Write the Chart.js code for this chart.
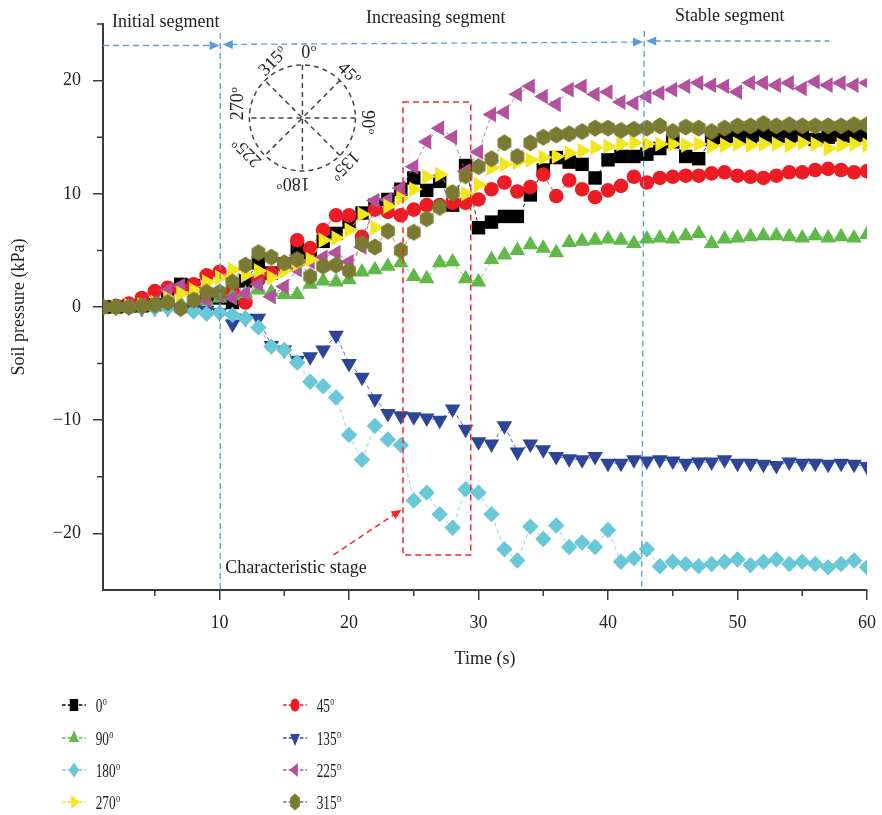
<!DOCTYPE html>
<html>
<head>
<meta charset="utf-8">
<script src="https://cdn.jsdelivr.net/npm/chart.js@4.4.0/dist/chart.umd.min.js"></script>
<style>
  html, body { margin: 0; padding: 0; background: #fff; }
</style>
</head>
<body>
<canvas id="pressure" width="882" height="815"></canvas>
<script>
// time axis (s)
const seconds = [1,2,3,4,5,6,7,8,9,10,11,12,13,14,15,16,17,18,19,20,
  21,22,23,24,25,26,27,28,29,30,31,32,33,34,35,36,37,38,39,40,
  41,42,43,44,45,46,47,48,49,50,51,52,53,54,55,56,57,58,59,60];

// soil pressure (kPa) per gauge angle
const deg0 = [0,0,0.1,0.1,0.2,0.8,2.0,1.9,1.0,0.8, 0.4,2.3,3.9,3.0,3.8,5.2,4.8,5.8,6.5,7.5,
  8.3,9.0,9.5,10.4,11.4,10.3,11.1,9.0,12.5,7.0, 7.5,8.0,8.0,9.9,12.1,13.2,12.8,12.6,11.4,13.0,
  13.3,13.3,13.5,14.0,14.6,13.3,13.1,14.8,15.0,15.1, 15.0,15.2,15.0,15.1,15.2,14.8,15.0,15.2,15.1,15.2];
const deg45 = [0,0.1,0.3,0.8,1.4,1.7,1.6,2.0,2.8,3.1, 1.5,0.4,2.4,3.0,3.6,5.9,5.2,6.8,8.1,8.1,
  6.2,8.6,8.4,8.1,8.6,9.0,9.0,9.2,9.2,9.5, 10.4,11.0,10.2,10.6,11.7,9.8,11.2,10.4,9.7,10.3,
  10.7,11.5,11.0,11.4,11.5,11.6,11.6,11.8,11.9,11.6, 11.5,11.4,11.6,11.9,11.9,12.1,12.2,12.1,11.9,12.0];
const deg90 = [0,0,0,0.1,0.1,0.2,0.3,0.4,0.5,0.8, 1.0,1.2,1.5,1.3,1.1,1.1,2.0,2.3,2.2,2.4,
  3.1,3.3,3.6,3.9,2.7,2.5,3.9,4.0,2.5,2.2, 4.2,4.6,5.0,5.5,5.2,4.8,5.7,5.8,5.9,6.0,
  5.9,5.6,6.0,6.1,6.0,6.3,6.5,5.6,6.0,6.1, 6.2,6.3,6.3,6.2,6.1,6.3,6.1,6.2,6.1,6.4];
const deg135 = [0,0,0,-0.1,-0.1,-0.1,-0.1,-0.2,-0.3,-0.5, -1.5,-1.0,-1.0,-3.4,-3.8,-4.7,-4.4,-3.8,-2.5,-5.0,
  -6.2,-8.1,-9.4,-9.6,-9.7,-9.8,-10.0,-9.0,-10.8,-11.9, -12.1,-10.5,-12.8,-12.1,-12.6,-13.2,-13.4,-13.5,-13.2,-13.8,
  -13.8,-13.5,-13.6,-13.5,-13.6,-13.8,-13.7,-13.7,-13.5,-13.8, -13.8,-13.9,-14.0,-13.7,-13.8,-13.8,-13.9,-13.8,-13.9,-14.1];
const deg180 = [0,0,0,0,-0.1,-0.1,-0.2,-0.4,-0.6,-0.5, -0.7,-1.0,-1.8,-3.5,-3.8,-4.9,-6.6,-7.0,-8.0,-11.3,
  -13.5,-10.5,-11.7,-12.2,-17.1,-16.4,-18.3,-19.5,-16.1,-16.4, -18.3,-21.4,-22.4,-19.4,-20.5,-19.3,-21.2,-20.8,-21.2,-19.7,
  -22.5,-22.2,-21.4,-22.9,-22.5,-22.7,-22.9,-22.7,-22.5,-22.3, -22.8,-22.5,-22.3,-22.7,-22.5,-22.7,-23.0,-22.7,-22.4,-23.0];
const deg225 = [0,0,0.1,0.2,0.4,1.5,1.9,1.2,0.6,1.0, 0.8,1.2,2.0,0.9,1.8,3.3,4.0,4.4,4.8,4.0,
  5.3,9.4,9.5,10.5,12.4,14.6,15.8,15.0,12.0,13.7, 17.0,17.2,18.8,19.5,18.6,17.9,19.2,19.5,18.8,19.0,
  18.1,18.0,18.6,18.9,19.2,19.5,19.8,19.6,19.5,19.0, 19.8,19.8,19.6,19.8,19.3,19.9,19.6,19.8,19.6,19.8];
const deg270 = [0,0,0.1,0.2,0.4,0.8,1.2,1.5,2.2,2.6, 3.3,2.8,3.2,2.6,3.2,3.8,4.2,5.9,6.1,6.8,
  8.2,7.0,8.9,9.6,10.4,11.5,11.7,10.1,10.0,10.8, 12.3,12.6,12.8,13.0,13.2,13.3,13.6,13.8,14.1,14.2,
  14.4,14.5,14.4,14.4,14.4,14.3,14.4,14.2,14.3,14.4, 14.3,14.4,14.4,14.3,14.5,14.4,14.0,14.3,14.4,14.3];
const deg315 = [0,0,0,0.1,0.2,0.4,-0.1,0.6,1.3,1.3, 2.2,3.7,4.8,4.4,3.9,4.2,2.7,3.6,3.7,3.2,
  5.6,5.3,6.7,5.0,6.6,7.8,8.8,10.1,11.6,12.4, 13.1,14.5,13.3,14.5,15.0,15.2,15.3,15.5,15.8,15.8,
  15.6,15.7,15.8,16.0,15.5,15.9,15.8,15.5,15.8,16.0, 16.0,16.2,16.0,16.1,16.0,16.0,16.0,16.0,16.1,16.1];

const angleLabels = ['0', '45', '90', '135', '180', '225', '270', '315'];
const xMajorTicks = [10, 20, 30, 40, 50, 60];
const xMinorTicks = [5, 15, 25, 35, 45, 55];
const yMajorTicks = [-20, -10, 0, 10, 20];
const yMinorTicks = [-15, -5, 5, 15, 25];

const SERIF = '"Liberation Serif", "DejaVu Serif", serif';

// olive hexagon marker, pointy top
function makeHexagon(color, r) {
  const c = document.createElement('canvas');
  const s = Math.ceil(r * 2 + 2);
  c.width = s; c.height = s;
  const g = c.getContext('2d');
  g.fillStyle = color;
  g.beginPath();
  for (let k = 0; k < 6; k++) {
    const a = Math.PI / 3 * k;
    const px = s / 2 + Math.sin(a) * r * 0.92;
    const py = s / 2 - Math.cos(a) * r;
    if (k === 0) g.moveTo(px, py); else g.lineTo(px, py);
  }
  g.closePath();
  g.fill();
  return c;
}

const hexMarker = makeHexagon('#7a7a33', 8.6);

const styles = [
  { color: '#000000', point: 'rect', rot: 0, r: 9.5, order: 8 },
  { color: '#ec1c24', point: 'circle', rot: 0, r: 7.3, order: 7 },
  { color: '#5fb848', point: 'triangle', rot: 0, r: 9, order: 6 },
  { color: '#2c4597', point: 'triangle', rot: 180, r: 9, order: 5 },
  { color: '#69c8d8', point: 'rectRot', rot: 0, r: 8.2, order: 4 },
  { color: '#b3519f', point: 'triangle', rot: 270, r: 9, order: 3 },
  { color: '#f3e61a', point: 'triangle', rot: 90, r: 9, order: 2 },
  { color: '#7a7a33', point: hexMarker, rot: 0, r: 8.6, order: 1 }
];
const values = [deg0, deg45, deg90, deg135, deg180, deg225, deg270, deg315];

const datasets = values.map((vals, i) => ({
  label: angleLabels[i] + '°',
  data: seconds.map((t, j) => ({ x: t, y: vals[j] })),
  borderColor: styles[i].color,
  backgroundColor: styles[i].color,
  borderWidth: 0.8,
  borderDash: [4, 3],
  pointStyle: styles[i].point,
  pointRotation: styles[i].rot,
  pointRadius: styles[i].r,
  pointBorderWidth: 0,
  pointBackgroundColor: styles[i].color,
  order: styles[i].order,
  tension: 0
}));

// number with a small raised "o" as degree mark
function degText(ctx, num, x, y, size, align) {
  ctx.font = size + 'px ' + SERIF;
  const w = ctx.measureText(num).width;
  ctx.font = (size * 0.62) + 'px ' + SERIF;
  const wo = ctx.measureText('o').width;
  const start = align === 'center' ? x - (w + wo) / 2 : x;
  ctx.textAlign = 'left';
  ctx.textBaseline = 'alphabetic';
  ctx.font = size + 'px ' + SERIF;
  ctx.fillText(num, start, y);
  ctx.font = (size * 0.62) + 'px ' + SERIF;
  ctx.fillText('o', start + w + 0.5, y - size * 0.36);
}

function drawMarker(ctx, st, x, y, r) {
  ctx.fillStyle = st.color;
  if (st.point instanceof HTMLCanvasElement) {
    ctx.drawImage(st.point, x - st.point.width / 2, y - st.point.height / 2);
    return;
  }
  ctx.beginPath();
  if (st.point === 'rect') {
    const h = r * Math.SQRT1_2;
    ctx.rect(x - h, y - h, 2 * h, 2 * h);
  } else if (st.point === 'circle') {
    ctx.arc(x, y, r, 0, Math.PI * 2);
  } else if (st.point === 'rectRot') {
    ctx.moveTo(x, y - r); ctx.lineTo(x + r, y); ctx.lineTo(x, y + r); ctx.lineTo(x - r, y);
  } else {
    let a = st.rot * Math.PI / 180;
    for (let k = 0; k < 3; k++) {
      const px = x + Math.sin(a) * r, py = y - Math.cos(a) * r;
      if (k === 0) ctx.moveTo(px, py); else ctx.lineTo(px, py);
      a += Math.PI * 2 / 3;
    }
  }
  ctx.closePath();
  ctx.fill();
}

function arrowHead(ctx, x, y, dir, color) {
  ctx.save();
  ctx.fillStyle = color;
  ctx.translate(x, y);
  ctx.rotate(dir);
  ctx.beginPath();
  ctx.moveTo(0, 0);
  ctx.lineTo(-10, -4.5);
  ctx.lineTo(-10, 4.5);
  ctx.closePath();
  ctx.fill();
  ctx.restore();
}

const overlay = {
  id: 'overlay',
  afterDraw(chart) {
    const { ctx, scales: { x, y }, chartArea } = chart;
    const X = v => x.getPixelForValue(v);
    const Y = v => y.getPixelForValue(v);
    ctx.save();

    // minor tick marks
    ctx.strokeStyle = '#3a3a3a';
    ctx.lineWidth = 1.5;
    ctx.beginPath();
    xMinorTicks.forEach(v => { ctx.moveTo(X(v), chartArea.bottom); ctx.lineTo(X(v), chartArea.bottom + 6); });
    yMinorTicks.forEach(v => { ctx.moveTo(chartArea.left, Y(v)); ctx.lineTo(chartArea.left - 6, Y(v)); });
    ctx.stroke();

    // segment boundaries
    const blue = '#5b9bd8';
    ctx.strokeStyle = blue;
    ctx.lineWidth = 1.3;
    ctx.setLineDash([6, 4]);
    ctx.beginPath();
    ctx.moveTo(X(10.05), Y(24.2)); ctx.lineTo(X(10.05), chartArea.bottom);
    ctx.moveTo(X(42.8), Y(24.4)); ctx.lineTo(X(42.6), chartArea.bottom);
    ctx.moveTo(chartArea.left, Y(23.1)); ctx.lineTo(X(9.4), Y(23.1));
    ctx.moveTo(X(10.9), Y(23.2)); ctx.lineTo(X(42.0), Y(23.4));
    ctx.moveTo(X(43.6), Y(23.5)); ctx.lineTo(X(57.1), Y(23.5));
    ctx.stroke();
    ctx.setLineDash([]);
    arrowHead(ctx, X(10.0), Y(23.1), 0, blue);
    arrowHead(ctx, X(10.25), Y(23.2), Math.PI, blue);
    arrowHead(ctx, X(42.7), Y(23.4), 0, blue);
    arrowHead(ctx, X(42.95), Y(23.5), Math.PI, blue);

    // characteristic stage box and pointer
    const red = '#ee2a2a';
    ctx.strokeStyle = red;
    ctx.lineWidth = 1.5;
    ctx.setLineDash([6, 4]);
    ctx.strokeRect(X(24.17), Y(18.1), X(29.4) - X(24.17), Y(-21.9) - Y(18.1));
    const ax0 = X(18.8), ay0 = Y(-21.9), ax1 = X(24.05), ay1 = Y(-17.9);
    ctx.beginPath();
    ctx.moveTo(ax0, ay0); ctx.lineTo(ax1 - 6, ay1 + 4);
    ctx.stroke();
    ctx.setLineDash([]);
    arrowHead(ctx, ax1, ay1, Math.atan2(ay1 - ay0, ax1 - ax0), red);

    // text labels
    ctx.fillStyle = '#222';
    ctx.font = '18px ' + SERIF;
    ctx.textBaseline = 'alphabetic';
    ctx.textAlign = 'left';
    ctx.fillText('Initial segment', X(1.7), Y(24.7));
    ctx.textAlign = 'center';
    ctx.fillText('Increasing segment', X(26.7), Y(25.1));
    ctx.fillText('Stable segment', X(49.4), Y(25.3));
    ctx.fillText('Characteristic stage', X(15.9), Y(-23.5));

    // gauge layout diagram
    const cx = X(16.4), cy = Y(16.7), R = 53;
    ctx.strokeStyle = '#444';
    ctx.lineWidth = 1.5;
    ctx.setLineDash([5, 4]);
    ctx.beginPath();
    ctx.arc(cx, cy, R, 0, Math.PI * 2);
    ctx.stroke();
    ctx.beginPath();
    for (let k = 0; k < 4; k++) {
      const a = Math.PI / 4 * k;
      ctx.moveTo(cx + Math.sin(a) * R, cy - Math.cos(a) * R);
      ctx.lineTo(cx - Math.sin(a) * R, cy + Math.cos(a) * R);
    }
    ctx.stroke();
    ctx.setLineDash([]);
    const offs = [[6, -66], [47, -45], [66, 4], [43, 48], [-9, 66], [-56, 35], [-65, -14], [-30, -57]];
    ctx.fillStyle = '#222';
    angleLabels.forEach((lab, k) => {
      ctx.save();
      ctx.translate(cx + offs[k][0], cy + offs[k][1]);
      ctx.rotate(Math.PI / 4 * k);
      degText(ctx, lab, 0, 6, 18, 'center');
      ctx.restore();
    });

    // legend, two columns
    const colX = [74, 295];
    const rowY = [705, 738, 770, 802];
    const legendOrder = [0, 2, 4, 6, 1, 3, 5, 7];
    legendOrder.forEach((idx, n) => {
      const st = styles[idx];
      const lx = colX[Math.floor(n / 4)], ly = rowY[n % 4];
      ctx.save();
      ctx.translate(lx, ly);
      ctx.scale(0.7, 1);
      ctx.strokeStyle = st.color;
      ctx.lineWidth = 1.5;
      ctx.setLineDash([5, 3]);
      ctx.beginPath();
      ctx.moveTo(-17, 0); ctx.lineTo(17, 0);
      ctx.stroke();
      ctx.setLineDash([]);
      drawMarker(ctx, st, 0, 0, st.r * 0.9);
      ctx.fillStyle = '#222';
      degText(ctx, angleLabels[idx], 31, 6.5, 19, 'left');
      ctx.restore();
    });

    ctx.restore();
  }
};

const tickFont = { family: SERIF, size: 18 };

new Chart(document.getElementById('pressure'), {
  type: 'line',
  data: { datasets },
  options: {
    responsive: false,
    animation: false,
    layout: { padding: { top: 24, right: 15, bottom: 145, left: 0 } },
    plugins: { legend: { display: false }, tooltip: { enabled: false } },
    scales: {
      x: {
        type: 'linear',
        min: 1,
        max: 60,
        afterBuildTicks: s => { s.ticks = xMajorTicks.map(v => ({ value: v })); },
        afterFit: s => { s.height = 80; s.paddingLeft = 0; s.paddingRight = 0; },
        grid: { drawOnChartArea: false, drawTicks: true, tickLength: 10, color: '#3a3a3a', lineWidth: 1.5 },
        border: { display: true, color: '#3a3a3a', width: 2 },
        ticks: { font: tickFont, color: '#222', padding: 12, maxRotation: 0 },
        title: { display: true, text: 'Time (s)', font: tickFont, color: '#222', padding: { top: 0, bottom: 0 } }
      },
      y: {
        min: -25,
        max: 25,
        afterBuildTicks: s => { s.ticks = yMajorTicks.map(v => ({ value: v })); },
        afterFit: s => { s.width = 103; s.paddingTop = 0; s.paddingBottom = 0; },
        grid: { drawOnChartArea: false, drawTicks: true, tickLength: 10, color: '#3a3a3a', lineWidth: 1.5 },
        border: { display: true, color: '#3a3a3a', width: 2 },
        ticks: { font: tickFont, color: '#222', padding: 12, callback: v => (v < 0 ? '\u2212' + Math.abs(v) : String(v)) },
        title: { display: true, text: 'Soil pressure (kPa)', font: tickFont, color: '#222', padding: { top: 8, bottom: 0 } }
      }
    }
  },
  plugins: [overlay]
});
</script>
</body>
</html>
